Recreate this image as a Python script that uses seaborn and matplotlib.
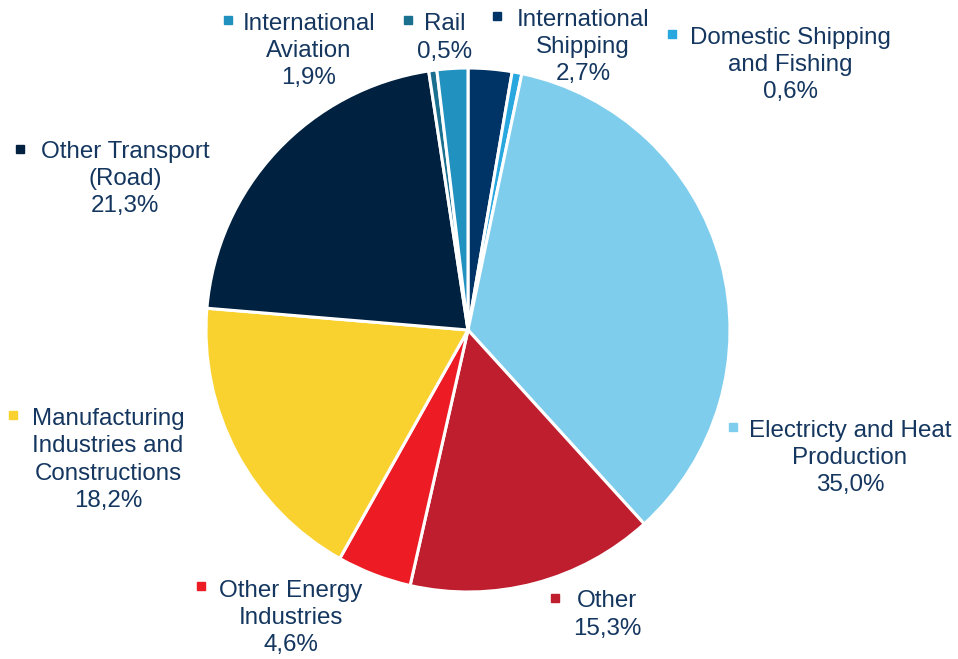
import matplotlib
matplotlib.use("Agg")
import matplotlib.pyplot as plt
from matplotlib.lines import Line2D
import seaborn as sns

categories = ["International\nShipping", "Domestic Shipping\nand Fishing", "Electricty and Heat\nProduction",
              "Other", "Other Energy\nIndustries", "Manufacturing\nIndustries and\nConstructions",
              "Other Transport\n(Road)", "Rail", "International\nAviation"]
values = [2.7, 0.6, 35.0, 15.3, 4.6, 18.2, 21.3, 0.5, 1.9]
pct_labels = ["2,7%", "0,6%", "35,0%", "15,3%", "4,6%", "18,2%", "21,3%", "0,5%", "1,9%"]
colors = ["#003366", "#29a8e0", "#7fcdec", "#be1e2d", "#ed1c24", "#f9d230", "#00213f", "#1b6f8f", "#2191c0"]

sns.set_theme(style="white")
plt.rcParams['font.family'] = ['Liberation Sans', 'DejaVu Sans']

W, H = 958, 659
fig = plt.figure(figsize=(W / 100, H / 100), dpi=100)
fig.patch.set_facecolor("white")

cx, cy, r = 468, 330, 262
ax = fig.add_axes([(cx - r) / W, (H - cy - r) / H, 2 * r / W, 2 * r / H])
ax.pie(values, colors=colors, startangle=90, counterclock=False, radius=1,
       wedgeprops=dict(edgecolor="white", linewidth=2.2))
ax.set_xlim(-1, 1)
ax.set_ylim(-1, 1)
ax.set_aspect("auto")
ax.axis("off")

# label layout: (text centre x, centre y of block, marker x, marker y) in pixels
layout = [
    (583, 47, 497, 16),
    (790, 65, 672, 34),
    (850, 458, 733, 427),
    (607, 615, 555, 598),
    (291, 618, 201, 586),
    (108, 460, 13, 415),
    (125, 179, 20, 149),
    (445, 38, 408, 20),
    (309, 51, 228, 20),
]
text_color = "#14365f"
for cat, pct, col, (tx, ty, mx, my) in zip(categories, pct_labels, colors, layout):
    fig.text(tx / W, 1 - ty / H, f"{cat}\n{pct}", ha="center", va="center",
             multialignment="center", fontsize=17.4, color=text_color, linespacing=1.3)
    fig.add_artist(Line2D([mx / W], [1 - my / H], marker="s", markersize=5.5,
                          color=col, linestyle="none", transform=fig.transFigure))

fig.savefig("out.png", dpi=100)
